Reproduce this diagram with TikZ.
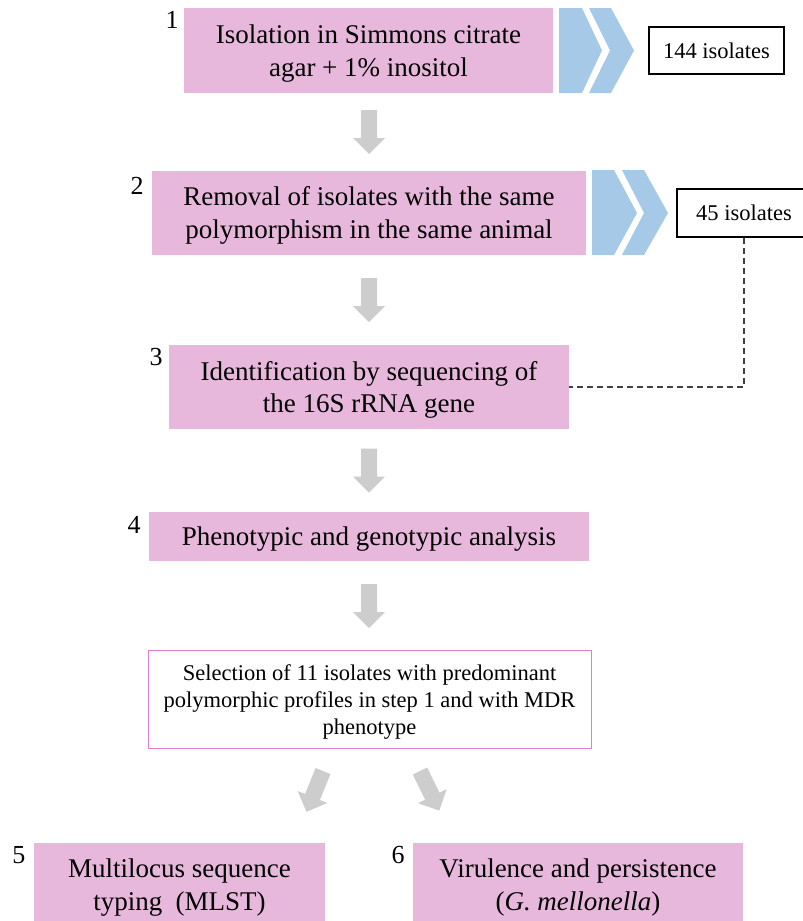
\documentclass[tikz,border=0pt]{standalone}
\usepackage{fontspec}
\setmainfont{Liberation Serif}
\definecolor{boxpink}{HTML}{E8B8DC}
\definecolor{chevblue}{HTML}{A6C9E8}
\definecolor{arrowgray}{HTML}{CDCDCD}
\definecolor{selborder}{HTML}{E07FD0}
\tikzset{
  stepbox/.style={fill=boxpink, inner sep=0pt},
  steptext/.style={inner sep=0pt, align=center, font=\fontsize{27}{32.5}\selectfont},
  countbox/.style={draw=black, line width=1.1pt, fill=white, inner sep=0pt, font=\fontsize{22.5}{24}\selectfont},
  selbox/.style={draw=selborder, line width=1pt, fill=white, inner sep=0pt},
  seltext/.style={inner sep=0pt, align=center, font=\fontsize{22.5}{27}\selectfont},
  stepnum/.style={inner sep=0pt, font=\fontsize{26}{28}\selectfont},
  chevron/.style={fill=chevblue},
  blockarrow/.pic={\fill[arrowgray] (-8,0) -- (8,0) -- (8,28) -- (16,28) -- (0,44) -- (-16,28) -- (-8,28) -- cycle;}
}
\begin{document}
\begin{tikzpicture}[x=1pt,y=-1pt]
\useasboundingbox (0,0) rectangle (803,921);
\clip (0,0) rectangle (803,921);

% step boxes
\node[stepbox, minimum width=369pt, minimum height=85pt] (b1) at (368.5,50.5) {};
\node[steptext] (t1) at ([yshift=-3pt]b1.center) {Isolation in Simmons citrate\\agar + 1\% inositol};
\node[stepbox, minimum width=434pt, minimum height=84pt] (b2) at (369,213) {};
\node[steptext] (t2) at ([yshift=-2.5pt]b2.center) {Removal of isolates with the same\\polymorphism in the same animal};
\node[stepbox, minimum width=400pt, minimum height=84pt] (b3) at (369,387) {};
\node[steptext] (t3) at ([yshift=-3pt]b3.center) {Identification by sequencing of\\the 16S rRNA gene};
\node[stepbox, minimum width=440pt, minimum height=49pt] (b4) at (369,536.5) {};
\node[steptext] (t4) at ([yshift=-3pt]b4.center) {Phenotypic and genotypic analysis};
\node[selbox, minimum width=443pt, minimum height=98pt] (sel) at (369.5,699) {};
\node[seltext] (tsel) at ([yshift=-3pt]sel.center) {Selection of 11 isolates with predominant\\polymorphic profiles in step 1 and with MDR\\phenotype};
\node[stepbox, minimum width=291pt, minimum height=86pt] (b5) at (179.5,886) {};
\node[steptext] (t5) at ([yshift=-1.5pt]b5.center) {Multilocus sequence\\typing\ \ (MLST)};
\node[stepbox, minimum width=330pt, minimum height=86pt] (b6) at (578,886) {};
\node[steptext] (t6) at ([yshift=-1.5pt]b6.center) {Virulence and persistence\\(\textit{G. mellonella})};

% step numbers
\node[stepnum] (n1) at (172,20) {1};
\node[stepnum] (n2) at (137,186) {2};
\node[stepnum] (n3) at (156,357) {3};
\node[stepnum] (n4) at (134,525) {4};
\node[stepnum] (n5) at (19,855) {5};
\node[stepnum] (n6) at (398,855) {6};

% chevrons
\fill[chevron] (559,8) -- (582,8) -- (602,50.5) -- (582,93) -- (559,93) -- cycle;
\fill[chevron] (589,8) -- (611,8) -- (634,50.5) -- (611,93) -- (589,93) -- (610,50.5) -- cycle;
\fill[chevron] (592,170) -- (614,170) -- (637,213) -- (614,255) -- (592,255) -- cycle;
\fill[chevron] (622,170) -- (644,170) -- (668,213) -- (644,255) -- (622,255) -- (644,213) -- cycle;

% count boxes
\node[countbox, minimum width=135pt, minimum height=47pt] (i144) at (716.5,50.5) {144 isolates};
\node[countbox, minimum width=134pt, minimum height=48pt] (i45) at (744,213) {45 isolates};

% dashed connector
\draw[dash pattern=on 6pt off 4pt, draw=black!75, line width=1.3pt] (i45.south) |- (b3.east);

% gray block arrows
\pic at (369,110) {blockarrow};
\pic at (369,278) {blockarrow};
\pic at (369,448.5) {blockarrow};
\pic at (369,584) {blockarrow};
\pic[rotate=-22] at (323,771) {blockarrow};
\pic[rotate=26] at (420,771) {blockarrow};
\end{tikzpicture}
\end{document}
